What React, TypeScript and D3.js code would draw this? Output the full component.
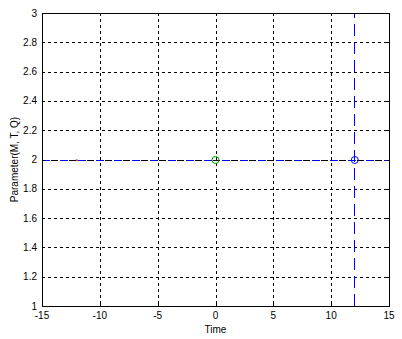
import React from "react";
import * as d3 from "d3";

const xTicks = [-15, -10, -5, 0, 5, 10, 15];
const yTicks = [1, 1.2, 1.4, 1.6, 1.8, 2, 2.2, 2.4, 2.6, 2.8, 3];
const hLineX = [-15, 15];
const hLineY = [2, 2];
const vLineX = [12, 12];
const vLineY = [1, 3];
const redPoint = { x: -12, y: 2 };
const greenPoint = { x: 0, y: 2 };
const bluePoint = { x: 12, y: 2 };

const W = 402, H = 339;
const L = 42, R = 389, T = 13, B = 306;
const font = "'Liberation Sans', Arial, Helvetica, sans-serif";

export default function App() {
  const x = d3.scaleLinear().domain([-15, 15]).range([L, R]);
  const y = d3.scaleLinear().domain([1, 3]).range([B, T]);
  const line = d3.line<[number, number]>().x(d => x(d[0])).y(d => y(d[1]));
  const hPts: [number, number][] = hLineX.map((v, i) => [v, hLineY[i]]);
  const vPts: [number, number][] = vLineX.map((v, i) => [v, vLineY[i]]);
  return (
    <svg width={W} height={H} style={{ position: "absolute", left: 0, top: 0, background: "#fff" }}>
      <rect x={0} y={0} width={W} height={H} fill="#fff" />
      {/* grid */}
      <g stroke="#000" strokeWidth={1} strokeDasharray="3,3" shapeRendering="crispEdges">
        {xTicks.slice(1, -1).map(t => (
          <line key={"gx" + t} x1={Math.round(x(t)) + 0.5} x2={Math.round(x(t)) + 0.5} y1={T} y2={B} />
        ))}
        {yTicks.slice(1, -1).filter(t => t !== 2).map(t => (
          <line key={"gy" + t} x1={L} x2={R} y1={Math.round(y(t)) + 0.5} y2={Math.round(y(t)) + 0.5} />
        ))}
      </g>
      {/* data lines */}
      <path d={line(hPts) || ""} fill="none" stroke="#0000ff" strokeWidth={1} strokeDasharray="8,10" shapeRendering="crispEdges" transform="translate(0,0.5)" />
      <path d={line(hPts) || ""} fill="none" stroke="#000" strokeWidth={1} strokeDasharray="7,11" strokeDashoffset={-9} shapeRendering="crispEdges" transform="translate(0,0.5)" />
      <path d={line(vPts) || ""} fill="none" stroke="#0000ff" strokeWidth={1} strokeDasharray="12,6" shapeRendering="crispEdges" transform="translate(0.5,0)" />
      <rect x={x(redPoint.x) - 1} y={y(redPoint.y)} width={2} height={1.5} fill="#ff0000" />
      <circle cx={x(greenPoint.x)} cy={y(greenPoint.y) + 0.5} r={3.5} fill="none" stroke="#00aa00" strokeWidth={1} />
      <circle cx={x(bluePoint.x) + 0.5} cy={y(bluePoint.y) + 0.5} r={3.5} fill="none" stroke="#0000ff" strokeWidth={1} />
      {/* axes box */}
      <rect x={L + 0.5} y={T + 0.5} width={R - L} height={B - T} fill="none" stroke="#000" strokeWidth={1} shapeRendering="crispEdges" />
      {/* ticks */}
      <g stroke="#000" strokeWidth={1} shapeRendering="crispEdges">
        {xTicks.map(t => (
          <g key={"tx" + t}>
            <line x1={Math.round(x(t)) + 0.5} x2={Math.round(x(t)) + 0.5} y1={B} y2={B - 3} />
            <line x1={Math.round(x(t)) + 0.5} x2={Math.round(x(t)) + 0.5} y1={T} y2={T + 3} />
          </g>
        ))}
        {yTicks.map(t => (
          <g key={"ty" + t}>
            <line x1={L} x2={L + 3} y1={Math.round(y(t)) + 0.5} y2={Math.round(y(t)) + 0.5} />
            <line x1={R} x2={R - 3} y1={Math.round(y(t)) + 0.5} y2={Math.round(y(t)) + 0.5} />
          </g>
        ))}
      </g>
      {/* tick labels */}
      <g fontFamily={font} fontSize={10} fill="#000">
        {xTicks.map(t => (
          <text key={"lx" + t} x={x(t)} y={319} textAnchor="middle">{t}</text>
        ))}
        {yTicks.map(t => (
          <text key={"ly" + t} x={37} y={y(t) + 3.5} textAnchor="end">{t}</text>
        ))}
        <text x={(L + R) / 2} y={333} textAnchor="middle">Time</text>
        <text transform={`translate(18,${(T + B) / 2}) rotate(-90)`} textAnchor="middle">Parameter(M, T, Q)</text>
      </g>
    </svg>
  );
}
